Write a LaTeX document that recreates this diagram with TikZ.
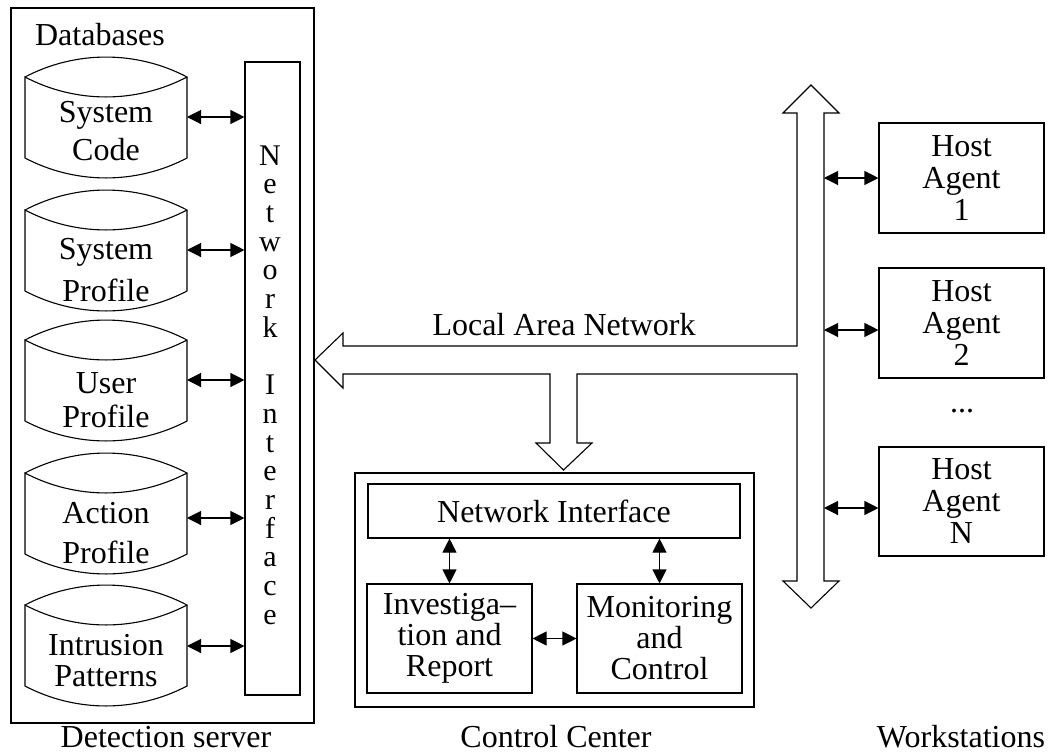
\documentclass[tikz,border=0pt]{standalone}
\usepackage{fontspec}
\setmainfont{Liberation Serif}
\usetikzlibrary{arrows.meta}
\begin{document}
\begin{tikzpicture}[x=1pt,y=-1pt,
  outl/.style={draw=black,line width=1.1pt},
  box/.style={outl,rectangle,inner sep=0pt,align=center,font=\fontsize{32}{32}\selectfont},
  sz/.style 2 args={minimum width=#1pt,minimum height=#2pt},
  txt/.style={align=center,inner sep=0pt,font=\fontsize{32}{#1}\selectfont},
  txt/.default=32,
  biarrow/.style={line width=1.1pt,{Triangle[length=14pt,width=14pt]}-{Triangle[length=14pt,width=14pt]}},
  dbcyl/.pic={
    \draw[outl] (0,0) .. controls (50.7,-26.6) and (111.3,-26.6) .. (162,0)
                      .. controls (111.3,26.6) and (50.7,26.6) .. (0,0)
                -- (0,81) .. controls (50.7,107.6) and (111.3,107.6) .. (162,81) -- (162,0);
    \coordinate (-r) at (162,#1);
  }
]
\useasboundingbox (0,0) rectangle (1053,753);

% Detection server with its databases
\node[box,sz={303}{715}] (ds) at (162.5,365.5) {};
\node[txt,anchor=base] (dbl) at (100,45) {Databases};
\node[box,sz={55}{633}] (ni) at (272.5,378.5) {};
\node[align=center,inner sep=0pt,font=\fontsize{30}{28.7}\selectfont] (nit) at (270,385)
  {N\\e\\t\\w\\o\\r\\k\\\mbox{}\\I\\n\\t\\e\\r\\f\\a\\c\\e};

\pic (c1) at (25,77) {dbcyl=40};
\pic (c2) at (25,210) {dbcyl=40};
\pic (c3) at (25,340) {dbcyl=40};
\pic (c4) at (25,473) {dbcyl=45};
\pic (c5) at (25,605) {dbcyl=41};

\node[txt=38] (t1) at (106,131) {System\\Code};
\node[txt=42] (t2) at (106,270) {System\\Profile};
\node[txt=34] (t3) at (106,400) {User\\Profile};
\node[txt=40] (t4) at (106,533) {Action\\Profile};
\node[txt=31] (t5) at (106,661) {Intrusion\\Patterns};

\foreach \i in {1,...,5}
  \draw[biarrow] (c\i-r) -- (c\i-r -| ni.west);

% Local area network bus
\draw[outl,line join=miter] (315,360) -- (343,333) -- (343,346) -- (797,346) -- (797,113)
  -- (783,113) -- (811,85) -- (839,113) -- (824,113) -- (824,581) -- (839,581)
  -- (811,608) -- (783,581) -- (797,581) -- (797,374) -- (577,374) -- (577,443)
  -- (592,443) -- (563.5,470) -- (536,443) -- (550,443) -- (550,374) -- (343,374)
  -- (343,388) -- cycle;
\node[txt,anchor=base] (lan) at (564,335) {Local Area Network};
\coordinate (bus) at (824,0);

% Control center
\node[box,sz={399}{234}] (cc) at (554.5,590) {};
\node[box,sz={372}{54}] (cni) at (554,511) {Network Interface};
\node[box,sz={165}{109},font=\fontsize{32}{31}\selectfont] (inv) at (449.5,638.5) {Investiga--\\tion and\\Report};
\node[box,sz={165}{109},font=\fontsize{32}{31}\selectfont] (mon) at (659.5,638.5) {Monitoring\\and\\Control};
\draw[biarrow] (inv.north) -- (inv.north |- cni.south);
\draw[biarrow] (mon.north) -- (mon.north |- cni.south);
\draw[biarrow] (inv.east) -- (mon.west);

% Workstations
\node[box,sz={165}{110}] (h1) at (961.5,178) {Host\\Agent\\1};
\node[box,sz={165}{110}] (h2) at (961.5,323) {Host\\Agent\\2};
\node[txt] (dots) at (962,411) {...};
\node[box,sz={165}{109}] (hN) at (961.5,501.5) {Host\\Agent\\N};
\coordinate (a2) at ([yshift=-7pt]h2.west);
\coordinate (aN) at ([yshift=-6.5pt]hN.west);
\draw[biarrow] (h1.west) -- (h1.west -| bus);
\draw[biarrow] (a2) -- (a2 -| bus);
\draw[biarrow] (aN) -- (aN -| bus);

% Captions
\node[txt,anchor=base] (dsl) at (166,747) {Detection server};
\node[txt,anchor=base] (ccl) at (556,747) {Control Center};
\node[txt,anchor=base] (wsl) at (961,747) {Workstations};
\end{tikzpicture}
\end{document}
